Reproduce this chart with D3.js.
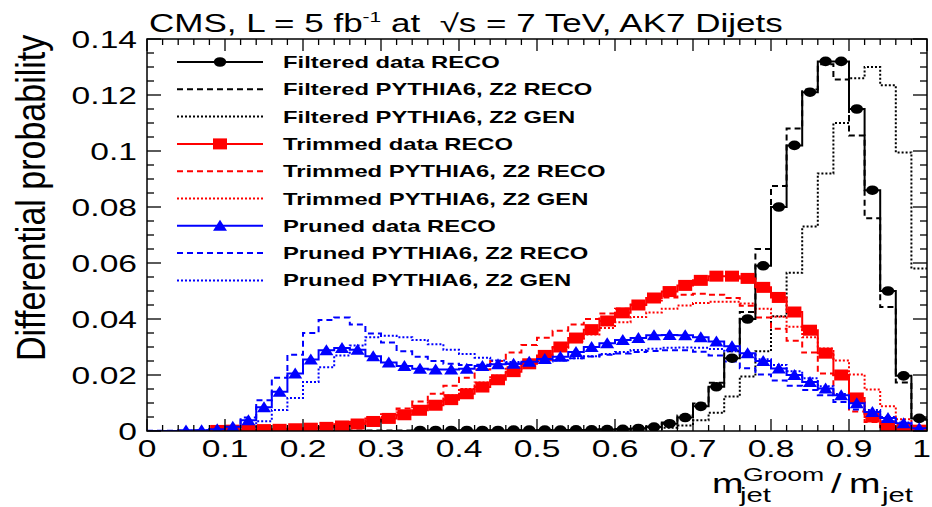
<!DOCTYPE html>
<html>
<head>
<meta charset="utf-8">
<script src="https://cdnjs.cloudflare.com/ajax/libs/d3/7.8.5/d3.min.js"></script>
<style>
  body { margin: 0; background: #fff; }
  text { font-family: "Liberation Sans", Arial, Helvetica, sans-serif; fill: #000; white-space: pre; }
</style>
</head>
<body>
<div class="chart"></div>
<script>
// bins: 50 bins of width 0.02 between 0 and 1
var binWidth = 0.02;
var binEdges = d3.range(0, 50).map(i => +(i * binWidth).toFixed(2));

// Filtered (black)
var filteredData = [0,0,0,0,0,0,0,0,0,0, 0,0,0,0,0,0,0,
  0.0002,0.0002,0.0002,0.0002,0.0002,0.0002,0.0003,0.0003,0.0003,0.0003,
  0.0004,0.0004,0.0005,0.0006,0.0009,0.0014,0.0026,0.0048,0.0088,0.0158,
  0.026,0.040,0.059,0.080,0.102,0.121,0.132,0.132,0.115,0.086,0.050,0.0197,0.0045];
var filteredReco = [0,0,0,0,0,0,0,0,0,0,0,0,
  0.0002,0.0002,0.0002,0.0002,0.0002,0.0002,0.0002,0.0002,0.0003,0.0003,
  0.0003,0.0003,0.0003,0.0004,0.0004,0.0004,0.0005,0.0006,0.0007,0.0010,
  0.0016,0.003,0.0055,0.0098,0.0172,0.0285,0.0425,0.065,0.0875,0.108,
  0.122,0.131,0.1255,0.1055,0.076,0.0443,0.0173,0.004];
var filteredGen = [0,0,0,0,0,0,0,0,0,0,0,0,0,0,0,0,0,0,0,0,0,0,0,0,0,
  0.0002,0.0002,0.0003,0.0003,0.0004,0.0004,0.0005,
  0.0007,0.0012,0.002,0.0038,0.0065,0.0123,0.0195,0.0285,0.041,0.0565,
  0.073,0.092,0.110,0.126,0.130,0.1235,0.0995,0.058];

// Trimmed (red)
var trimmedData = [0,0,0,0,
  0.0002,0.0003,0.0004,0.0005,0.0006,0.0008,0.001,0.0013,0.0018,0.0025,
  0.0034,0.0045,0.0058,0.0074,0.0092,0.0112,0.0133,0.0157,0.0183,0.0212,
  0.024,0.027,0.030,0.0332,0.0362,0.0393,0.0422,0.045,0.0475,0.0498,
  0.052,0.0538,0.0553,0.0553,0.0545,0.0513,0.0477,0.0425,0.036,0.0278,
  0.020,0.0118,0.005,0.0015,0.0006,0.0003];
var trimmedReco = [0,0,0,0,0,0.0002,0.0003,
  0.0004,0.0006,0.0008,0.0012,0.0017,0.0024,0.0033,0.0045,0.006,0.008,
  0.0105,0.0133,0.0162,0.019,0.022,0.025,0.028,0.0307,0.0333,0.0358,
  0.038,0.040,0.042,0.0437,0.0452,0.0466,0.0477,0.0487,0.049,0.0487,
  0.0475,0.0447,0.0405,0.0365,0.0322,0.028,0.0205,0.013,0.007,0.0032,
  0.0013,0.0005,0.0002];
var trimmedGen = [0,0,0,0,0,0.0001,0.0002,
  0.0003,0.0005,0.0007,0.001,0.0014,0.002,0.0028,0.0038,0.005,0.0066,
  0.0085,0.0105,0.0127,0.015,0.0173,0.0197,0.0222,0.0247,0.0272,0.0297,
  0.032,0.0345,0.0368,0.0388,0.0407,0.0423,0.0437,0.0448,0.0457,0.0462,
  0.0462,0.0455,0.0437,0.0408,0.0372,0.0335,0.0295,0.0252,0.0202,0.0148,
  0.0088,0.0042,0.0013];

// Pruned (blue)
var prunedData = [0,0,
  0.0002,0.0003,0.0006,0.0015,0.0038,0.0085,0.014,0.0205,0.0255,0.0288,
  0.0296,0.029,0.0267,0.0245,0.0232,0.0222,0.022,0.022,0.0222,0.0232,
  0.0238,0.024,0.0247,0.0257,0.0265,0.0282,0.030,0.0313,0.0325,0.0332,
  0.0342,0.0343,0.0342,0.0335,0.032,0.0303,0.0278,0.025,0.0223,0.020,
  0.0175,0.0152,0.0128,0.0099,0.0068,0.0046,0.0028,0.001];
var prunedReco = [0.0001,0.0001,0.0002,0.0003,0.0007,0.0017,0.0048,0.011,0.019,0.0272,
  0.035,0.0396,0.0405,0.038,0.0348,0.0316,0.0285,0.0265,0.025,0.024,
  0.0236,0.0237,0.0238,0.024,0.0243,0.0248,0.0253,0.026,0.0266,0.0272,
  0.0277,0.0282,0.0286,0.0288,0.0288,0.0283,0.027,0.0248,0.0224,0.0202,
  0.018,0.0162,0.0146,0.0128,0.0104,0.0077,0.0052,0.0035,0.002,0.0008];
var prunedGen = [0,0,0.0001,0.0002,0.0003,0.0006,
  0.0015,0.0035,0.0075,0.0118,0.0175,0.0228,0.027,0.0305,0.0335,0.034,
  0.0335,0.0325,0.031,0.029,0.0275,0.0262,0.0252,0.0246,0.0245,0.0248,
  0.0253,0.026,0.0267,0.0275,0.0282,0.0289,0.0294,0.0297,0.0298,0.0297,
  0.0293,0.0285,0.0272,0.0256,0.0236,0.0213,0.0188,0.016,0.0132,0.0103,
  0.0075,0.005,0.003,0.0012];

// axis ticks
var xTickValues = [0, 0.1, 0.2, 0.3, 0.4, 0.5, 0.6, 0.7, 0.8, 0.9, 1];
var xTickLabels = ["0", "0.1", "0.2", "0.3", "0.4", "0.5", "0.6", "0.7", "0.8", "0.9", "1"];
var yTickValues = [0, 0.02, 0.04, 0.06, 0.08, 0.1, 0.12, 0.14];
var yTickLabels = ["0", "0.02", "0.04", "0.06", "0.08", "0.1", "0.12", "0.14"];

var legendLabels = [
  "Filtered data RECO", "Filtered PYTHIA6, Z2 RECO", "Filtered PYTHIA6, Z2 GEN",
  "Trimmed data RECO", "Trimmed PYTHIA6, Z2 RECO", "Trimmed PYTHIA6, Z2 GEN",
  "Pruned data RECO", "Pruned PYTHIA6, Z2 RECO", "Pruned PYTHIA6, Z2 GEN"
];

// svg container
var svgWidth = 932;
var svgHeight = 507;
var margin = { top: 39, right: 5, bottom: 76, left: 147 };
var width = svgWidth - margin.left - margin.right;
var height = svgHeight - margin.top - margin.bottom;

// the picture is stretched horizontally, so is the text
var stretch = 1.4;

var svg = d3.select(".chart").append("svg")
  .attr("width", svgWidth)
  .attr("height", svgHeight);

var chartGroup = svg.append("g")
  .attr("transform", `translate(${margin.left}, ${margin.top})`);

var xScale = d3.scaleLinear().domain([0, 1]).range([0, width]);
var yScale = d3.scaleLinear().domain([0, 0.14]).range([height, 0]);

function addText(parent, x, y, str, size, anchor, weight) {
  return parent.append("text")
    .attr("transform", `translate(${x},${y}) scale(${stretch},1)`)
    .attr("text-anchor", anchor || "start")
    .style("font-size", size + "px")
    .style("font-weight", weight || "normal")
    .text(str);
}

// series styling
var series = [
  { values: filteredReco, color: "#000", dash: "6,4" },
  { values: filteredGen, color: "#000", dash: "2,2" },
  { values: trimmedReco, color: "#f00", dash: "6,4" },
  { values: trimmedGen, color: "#f00", dash: "2,2" },
  { values: prunedReco, color: "#00f", dash: "6,4" },
  { values: prunedGen, color: "#00f", dash: "2,2" }
];
var dataSeries = [
  { values: filteredData, color: "#000", marker: "circle" },
  { values: trimmedData, color: "#f00", marker: "square" },
  { values: prunedData, color: "#00f", marker: "triangle" }
];

// histogram outline as step line
var stepLine = d3.line()
  .x(d => xScale(d[0]))
  .y(d => yScale(d[1]))
  .curve(d3.curveStepAfter);

function histPoints(values) {
  var pts = values.map((v, i) => [binEdges[i], v]);
  pts.push([1, values[values.length - 1]]);
  return pts;
}

function drawMarker(g, type, cx, cy, color) {
  if (type === "circle") {
    g.append("ellipse").attr("cx", cx).attr("cy", cy)
      .attr("rx", 6.2).attr("ry", 4.8).attr("fill", color);
  } else if (type === "square") {
    g.append("rect").attr("x", cx - 7).attr("y", cy - 5.5)
      .attr("width", 14).attr("height", 11).attr("fill", color);
  } else {
    g.append("path")
      .attr("d", `M${cx - 7},${cy + 5}L${cx + 7},${cy + 5}L${cx},${cy - 6}Z`)
      .attr("fill", color);
  }
}

chartGroup.append("clipPath").attr("id", "plotclip")
  .append("rect").attr("x", 0).attr("y", -2).attr("width", width).attr("height", height + 2);

var histGroup = chartGroup.append("g").attr("clip-path", "url(#plotclip)");

// MC histograms
series.forEach(function(s) {
  histGroup.append("path")
    .attr("d", stepLine(histPoints(s.values)))
    .attr("fill", "none")
    .attr("stroke", s.color)
    .attr("stroke-width", 2)
    .attr("stroke-dasharray", s.dash);
});

// data histograms with markers
dataSeries.forEach(function(s) {
  histGroup.append("path")
    .attr("d", stepLine(histPoints(s.values)))
    .attr("fill", "none")
    .attr("stroke", s.color)
    .attr("stroke-width", 2);
  var mg = histGroup.append("g");
  s.values.forEach(function(v, i) {
    if (v > 0) {
      drawMarker(mg, s.marker, xScale(binEdges[i] + binWidth / 2), yScale(v), s.color);
    }
  });
});

// frame
chartGroup.append("rect")
  .attr("width", width).attr("height", height)
  .attr("fill", "none").attr("stroke", "#000").attr("stroke-width", 1.5);

// ticks on all four sides
var yMinor = d3.range(0, 29).map(i => i * 0.005);
var xMinor = d3.range(0, 51).map(i => i * 0.02);
var tickGroup = chartGroup.append("g").attr("stroke", "#000").attr("stroke-width", 1.3);

yMinor.forEach(function(v, i) {
  var len = (i % 4 === 0) ? 14 : 7;
  var yy = yScale(v);
  tickGroup.append("line").attr("x1", 0).attr("x2", len).attr("y1", yy).attr("y2", yy);
  tickGroup.append("line").attr("x1", width).attr("x2", width - len).attr("y1", yy).attr("y2", yy);
});
xMinor.forEach(function(v, i) {
  var len = (i % 5 === 0) ? 12 : 6;
  var xx = xScale(v);
  tickGroup.append("line").attr("x1", xx).attr("x2", xx).attr("y1", height).attr("y2", height - len);
  tickGroup.append("line").attr("x1", xx).attr("x2", xx).attr("y1", 0).attr("y2", len);
});

// tick labels
yTickValues.forEach(function(v, i) {
  addText(svg, margin.left - 10, margin.top + yScale(v) + 8.5, yTickLabels[i], 24, "end");
});
xTickValues.forEach(function(v, i) {
  var last = i === xTickValues.length - 1;
  addText(svg, last ? svgWidth - 1 : margin.left + xScale(v), 457, xTickLabels[i], 24, last ? "end" : "middle");
});

// title
var title = svg.append("text")
  .attr("transform", `translate(149,32) scale(${stretch},1)`)
  .style("font-size", "25px");
title.append("tspan").text("CMS, L = 5 fb");
title.append("tspan").attr("dy", -10).style("font-size", "15px").text("-1");
title.append("tspan").attr("dy", 10).text(" at  ");
title.append("tspan").text("\u221As = 7 TeV, AK7 Dijets");

// axis titles
addText(svg, 712, 493, "m", 27);
addText(svg, 740, 502, "jet", 21);
addText(svg, 743, 481, "Groom", 19);
addText(svg, 831, 493, "/", 27);
addText(svg, 849, 493, "m", 27);
addText(svg, 882, 502, "jet", 21);

svg.append("text")
  .attr("transform", "translate(45,361) scale(1.2,1) rotate(-90)")
  .style("font-size", "34px")
  .text("Differential probability");

// legend
var legendStyles = [
  { color: "#000", dash: null, marker: "circle" },
  { color: "#000", dash: "6,4" },
  { color: "#000", dash: "2,2" },
  { color: "#f00", dash: null, marker: "square" },
  { color: "#f00", dash: "6,4" },
  { color: "#f00", dash: "2,2" },
  { color: "#00f", dash: null, marker: "triangle" },
  { color: "#00f", dash: "6,4" },
  { color: "#00f", dash: "2,2" }
];
var legendGroup = svg.append("g");
legendLabels.forEach(function(label, i) {
  var yy = 62 + i * 27.3;
  var st = legendStyles[i];
  legendGroup.append("line")
    .attr("x1", 177).attr("x2", 263).attr("y1", yy).attr("y2", yy)
    .attr("stroke", st.color).attr("stroke-width", 2)
    .attr("stroke-dasharray", st.dash);
  if (st.marker) drawMarker(legendGroup, st.marker, 220, yy, st.color);
  addText(legendGroup, 283, yy + 6, label, 17, "start", "bold");
});
</script>
</body>
</html>
